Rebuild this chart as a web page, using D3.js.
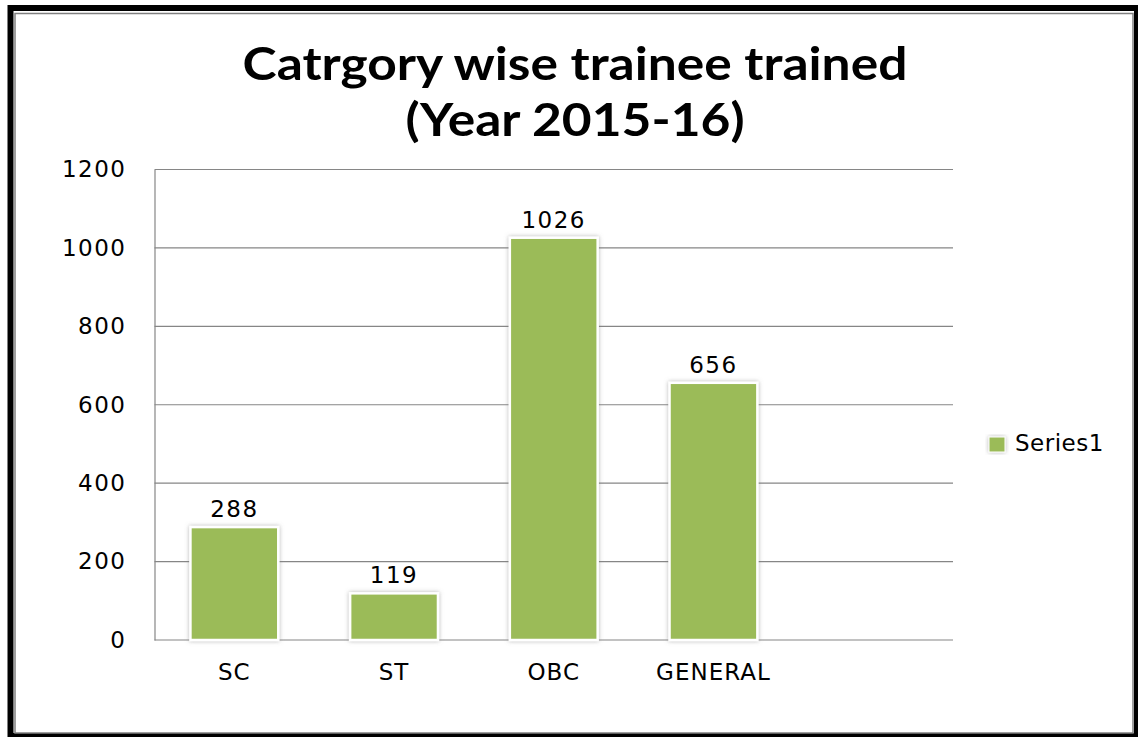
<!DOCTYPE html>
<html>
<head>
<meta charset="utf-8">
<script src="https://cdn.jsdelivr.net/npm/d3@7"></script>
<style>
  body { margin: 0; background: #fff; }
  svg { display: block; }
</style>
</head>
<body>
<div id="chart"></div>
<script>
const categories = ["SC", "ST", "OBC", "GENERAL"];
const values = [288, 119, 1026, 656];
const yTicks = [0, 200, 400, 600, 800, 1000, 1200];
const titleLines = ["Catrgory wise trainee trained", "(Year 2015-16)"];
const seriesName = "Series1";

const W = 1138, H = 737;
const plot = { left: 154.5, right: 953, top: 169.5, bottom: 640 };
const barColor = "#9BBB59";
const gridColor = "#868686";
const labelFont = "'DejaVu Sans', sans-serif";

const svg = d3.select("#chart").append("svg")
    .attr("width", W)
    .attr("height", H);

// shadow for the bars
const defs = svg.append("defs");
const shadow = defs.append("filter").attr("id", "shadow")
    .attr("x", "-20%").attr("y", "-20%").attr("width", "140%").attr("height", "140%");
shadow.append("feDropShadow")
    .attr("dx", 0).attr("dy", 0)
    .attr("stdDeviation", 2)
    .attr("flood-color", "#777")
    .attr("flood-opacity", 0.55);

// outer frame
svg.append("rect")
    .attr("x", 10.5).attr("y", 8)
    .attr("width", 1126.5).attr("height", 728)
    .attr("fill", "none")
    .attr("stroke", "#000")
    .attr("stroke-width", 6);
svg.append("rect")
    .attr("x", 15).attr("y", 13.5)
    .attr("width", 1118).attr("height", 719.5)
    .attr("fill", "none")
    .attr("stroke", "#808080")
    .attr("stroke-width", 1.5);

// title (the original is a bit stretched sideways)
svg.append("g")
    .attr("transform", "translate(575,0) scale(1.12,1)")
  .selectAll("text")
    .data(titleLines)
    .enter().append("text")
    .attr("x", 0)
    .attr("y", (d, i) => 80 + i * 56)
    .attr("text-anchor", "middle")
    .style("font-family", "Lato, 'Open Sans', sans-serif")
    .style("font-weight", "bold")
    .style("font-size", "46px")
    .style("fill", "#000")
    .text(d => d);

// the chart keeps one empty slot after the last category
const slots = [...categories, ""];
const x = d3.scaleBand()
    .domain(slots)
    .range([plot.left, plot.right])
    .paddingInner(0.45)
    .paddingOuter(0.225);

const y = d3.scaleLinear()
    .domain([0, 1200])
    .range([plot.bottom, plot.top]);

// gridlines
svg.append("g").selectAll("line")
    .data(yTicks)
    .enter().append("line")
    .attr("x1", plot.left)
    .attr("x2", plot.right)
    .attr("y1", d => y(d))
    .attr("y2", d => y(d))
    .attr("stroke", gridColor)
    .attr("stroke-width", 1.2);

// y axis
const yAxis = svg.append("g")
    .attr("transform", `translate(${plot.left},0)`)
    .call(d3.axisLeft(y).tickValues(yTicks).tickFormat(d3.format("d")).tickSize(0).tickPadding(28));
yAxis.select(".domain").attr("stroke", gridColor).attr("stroke-width", 1.2);
yAxis.selectAll("text")
    .style("font-family", labelFont)
    .style("font-size", "23px")
    .style("letter-spacing", "1.5px")
    .style("fill", "#000");

// x axis labels
const xAxis = svg.append("g")
    .attr("transform", `translate(0,${plot.bottom})`)
    .call(d3.axisBottom(x).tickSize(0).tickPadding(24));
xAxis.select(".domain").remove();
xAxis.selectAll("text")
    .style("font-family", labelFont)
    .style("font-size", "23px")
    .style("letter-spacing", "1px")
    .style("fill", "#000");

// bars
svg.append("g").selectAll("rect")
    .data(values)
    .enter().append("rect")
    .attr("x", (d, i) => x(categories[i]))
    .attr("y", d => y(d))
    .attr("width", x.bandwidth())
    .attr("height", d => y(0) - y(d))
    .attr("fill", barColor)
    .attr("stroke", "#fff")
    .attr("stroke-width", 2.5)
    .attr("filter", "url(#shadow)");

// value labels
svg.append("g").selectAll("text")
    .data(values)
    .enter().append("text")
    .attr("x", (d, i) => x(categories[i]) + x.bandwidth() / 2)
    .attr("y", d => y(d) - 10)
    .attr("text-anchor", "middle")
    .style("font-family", labelFont)
    .style("font-size", "23px")
    .style("letter-spacing", "1.5px")
    .style("fill", "#000")
    .text(d => d);

// legend
const legend = svg.append("g").attr("transform", "translate(989,437)");
legend.append("rect")
    .attr("width", 16).attr("height", 15)
    .attr("fill", barColor)
    .attr("stroke", "#fff")
    .attr("stroke-width", 1)
    .attr("filter", "url(#shadow)");
legend.append("text")
    .attr("x", 26)
    .attr("y", 14)
    .style("font-family", labelFont)
    .style("font-size", "23px")
    .style("letter-spacing", "0.5px")
    .style("fill", "#000")
    .text(seriesName);
</script>
</body>
</html>
